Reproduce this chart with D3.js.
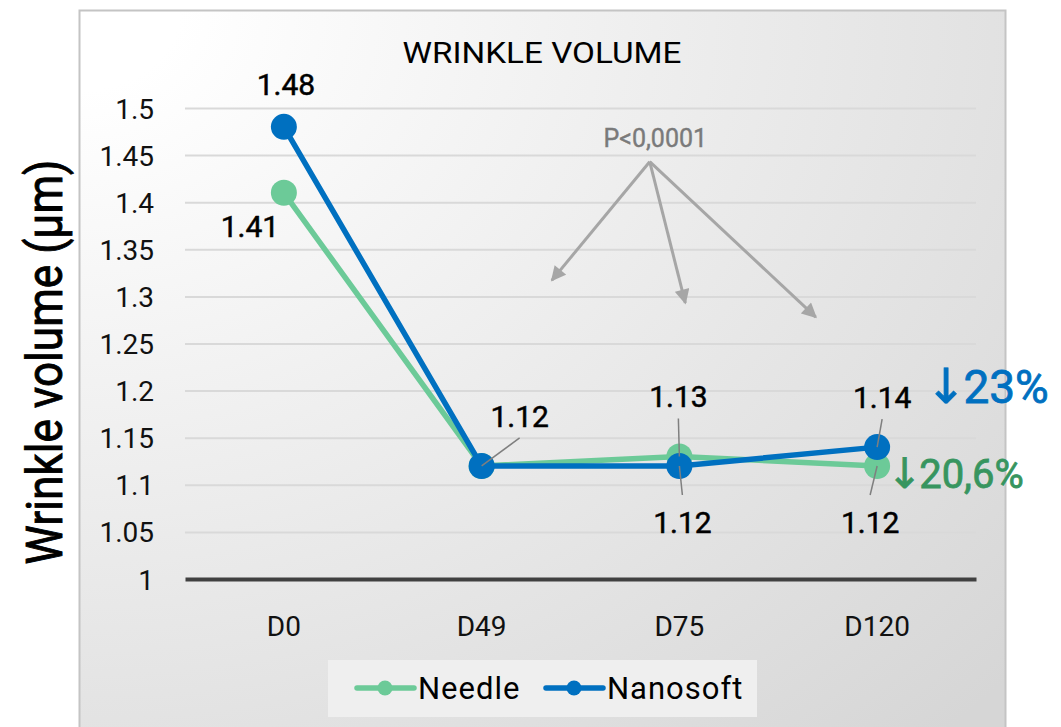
<!DOCTYPE html>
<html>
<head>
<meta charset="utf-8">
<script src="https://cdn.jsdelivr.net/npm/d3@7"></script>
<style>
  body { margin: 0; background: #fff; }
  svg { display: block; font-family: Roboto, "Noto Sans", sans-serif; }
</style>
</head>
<body>
<svg id="chart"></svg>
<script>
var categories = ["D0", "D49", "D75", "D120"];
var needle   = [1.41, 1.12, 1.13, 1.12];
var nanosoft = [1.48, 1.12, 1.12, 1.14];
var yTicks   = [1, 1.05, 1.1, 1.15, 1.2, 1.25, 1.3, 1.35, 1.4, 1.45, 1.5];
var yTickLabels = ["1", "1.05", "1.1", "1.15", "1.2", "1.25", "1.3", "1.35", "1.4", "1.45", "1.5"];
var seriesNames = ["Needle", "Nanosoft"];
var pValue = "P<0,0001";
var dropNanosoft = "23%";
var dropNeedle = "20,6%";

var W = 1061, H = 727;
var plot = {left: 185, right: 976, top: 108, bottom: 579};

var svg = d3.select("#chart").attr("width", W).attr("height", H);

// background of chart area
var defs = svg.append("defs");
var grad = defs.append("radialGradient")
  .attr("id", "bg").attr("cx", 0).attr("cy", 0).attr("r", 1.35).attr("fx", 0).attr("fy", 0);
grad.append("stop").attr("offset", 0.08).attr("stop-color", "#ffffff");
grad.append("stop").attr("offset", 1).attr("stop-color", "#d6d6d6");

defs.append("marker")
  .attr("id", "head")
  .attr("viewBox", "0 0 10 10")
  .attr("refX", 9).attr("refY", 5)
  .attr("markerWidth", 5.5).attr("markerHeight", 5)
  .attr("markerUnits", "strokeWidth")
  .attr("orient", "auto")
  .append("path").attr("d", "M0,0 L10,5 L0,10 Z").attr("fill", "#a6a6a6");

svg.append("rect")
  .attr("x", 79.5).attr("y", 10.5)
  .attr("width", 926).attr("height", 740)
  .attr("fill", "url(#bg)")
  .attr("stroke", "#c4c4c4").attr("stroke-width", 2);

var x = d3.scaleBand().domain(categories).range([plot.left, plot.right]);
var xi = d3.scaleLinear().domain([0, 3])
  .range([x(categories[0]) + x.bandwidth() / 2, x(categories[3]) + x.bandwidth() / 2]);
var y = d3.scaleLinear().domain([1, 1.5]).range([plot.bottom, plot.top]);
function cx(d, i) { return x(categories[i]) + x.bandwidth() / 2; }

// gridlines
var grid = svg.append("g")
  .attr("transform", "translate(" + plot.left + ",0)")
  .call(d3.axisLeft(y).tickValues(yTicks.slice(1)).tickSize(-(plot.right - plot.left)).tickFormat(""));
grid.select(".domain").remove();
grid.selectAll("line").attr("stroke", "#d9d9d9").attr("stroke-width", 2);

// y tick labels
var yAxis = svg.append("g")
  .attr("transform", "translate(" + plot.left + ",0)")
  .call(d3.axisLeft(y).tickValues(yTicks).tickSize(0).tickPadding(31)
    .tickFormat(function(d, i) { return yTickLabels[i]; }));
yAxis.select(".domain").remove();
yAxis.selectAll("text").attr("font-size", 28).attr("fill", "#111").attr("font-family", "Roboto").attr("dy", "0.36em");

// x axis
var xAxis = svg.append("g")
  .attr("transform", "translate(0," + plot.bottom + ")")
  .call(d3.axisBottom(x).tickSize(0).tickPadding(37));
xAxis.select(".domain").attr("stroke", "#404040").attr("stroke-width", 4);
xAxis.selectAll("text").attr("font-size", 28).attr("fill", "#111").attr("font-family", "Roboto");

// title
svg.append("text")
  .attr("x", 542).attr("y", 63)
  .attr("text-anchor", "middle")
  .attr("font-size", 29).attr("fill", "#000")
  .attr("textLength", 279).attr("lengthAdjust", "spacingAndGlyphs")
  .text("WRINKLE VOLUME");

// y axis title
svg.append("text")
  .attr("transform", "translate(62,362) rotate(-90)")
  .attr("text-anchor", "middle")
  .attr("font-size", 50).attr("fill", "#000")
  .attr("stroke", "#000").attr("stroke-width", 0.9)
  .attr("textLength", 405).attr("lengthAdjust", "spacingAndGlyphs")
  .text("Wrinkle volume (\u00b5m)");

// lines and markers
var line = d3.line()
  .x(function(d, i) { return cx(d, i); })
  .y(function(d) { return y(d); });

var series = [
  {name: seriesNames[0], values: needle, color: "#6cca98"},
  {name: seriesNames[1], values: nanosoft, color: "#0070c0"}
];

series.forEach(function(s) {
  svg.append("path")
    .datum(s.values)
    .attr("d", line)
    .attr("fill", "none")
    .attr("stroke", s.color)
    .attr("stroke-width", 5.5)
    .attr("stroke-linejoin", "round");
  svg.selectAll(null)
    .data(s.values)
    .enter()
    .append("circle")
    .attr("cx", cx)
    .attr("cy", function(d) { return y(d); })
    .attr("r", 13)
    .attr("fill", s.color);
});

// data labels: placement of each label relative to its point (dx, dy), with optional leader
var labelPlace = [
  [{dx: -34, dy: 33}, null, {dx: -1, dy: -60, leader: true}, {dx: -7, dy: 56, leader: true}],
  [{dx: 2, dy: -43}, {dx: 38, dy: -50, leader: true}, {dx: 3, dy: 56, leader: true}, {dx: 5, dy: -50, leader: true}]
];

series.forEach(function(s, si) {
  s.values.forEach(function(v, i) {
    var p = labelPlace[si][i];
    if (!p) return;
    var px = cx(v, i), py = y(v);
    var lx = px + p.dx, ly = py + p.dy;
    if (p.leader) {
      var edge = p.dy < 0 ? ly + 22 : ly - 27;
      svg.append("line")
        .attr("x1", px).attr("y1", py)
        .attr("x2", lx).attr("y2", edge)
        .attr("stroke", "#7f7f7f").attr("stroke-width", 1.5);
    }
    svg.append("text")
      .attr("x", lx).attr("y", ly)
      .attr("dy", "0.36em")
      .attr("text-anchor", "middle")
      .attr("font-size", 30).attr("fill", "#000")
      .attr("stroke", "#000").attr("stroke-width", 0.5)
      .text(d3.format(".2f")(v));
  });
});

// significance annotation (in data space: category index, value)
var pOrigin = {i: 1.85, v: 1.443};
var pTargets = [{i: 1.355, v: 1.317}, {i: 2.03, v: 1.293}, {i: 2.69, v: 1.278}];

svg.append("text")
  .attr("x", xi(1.878)).attr("y", y(1.4585))
  .attr("text-anchor", "middle")
  .attr("font-size", 25).attr("fill", "#7a7a7a")
  .attr("stroke", "#7a7a7a").attr("stroke-width", 0.4)
  .text(pValue);

pTargets.forEach(function(t) {
  svg.append("line")
    .attr("x1", xi(pOrigin.i)).attr("y1", y(pOrigin.v))
    .attr("x2", xi(t.i)).attr("y2", y(t.v))
    .attr("stroke", "#a6a6a6").attr("stroke-width", 3)
    .attr("marker-end", "url(#head)");
});

// drop percentages: a tall arrow glyph followed by the number
function drop(i, v, size, color, txt) {
  var t = svg.append("text")
    .attr("x", xi(i)).attr("y", y(v))
    .attr("fill", color)
    .attr("stroke", color).attr("stroke-width", 0.8);
  t.append("tspan")
    .attr("font-family", "DejaVu Sans")
    .attr("font-size", size * 1.05)
    .attr("dx", -4)
    .text("\u2193");
  t.append("tspan")
    .attr("font-size", size)
    .attr("dx", -3)
    .text(txt);
}
drop(3.267, 1.187, 46, "#0070c0", dropNanosoft);
drop(3.07, 1.0965, 40, "#37955f", dropNeedle);

// legend
var legend = svg.append("g");
legend.append("rect")
  .attr("x", 328).attr("y", 660)
  .attr("width", 429).attr("height", 57)
  .attr("fill", "#efefef");

var legendX = [357, 546];
series.forEach(function(s, i) {
  var g = legend.append("g").attr("transform", "translate(" + legendX[i] + ",688)");
  g.append("line")
    .attr("x1", 0).attr("x2", 57)
    .attr("stroke", s.color).attr("stroke-width", 5.5)
    .attr("stroke-linecap", "round");
  g.append("circle").attr("cx", 28).attr("r", 7.5).attr("fill", s.color);
  g.append("text")
    .attr("x", 61).attr("y", 11)
    .attr("font-size", 31).attr("fill", "#000")
    .attr("letter-spacing", 1)
    .text(s.name);
});
</script>
</body>
</html>
